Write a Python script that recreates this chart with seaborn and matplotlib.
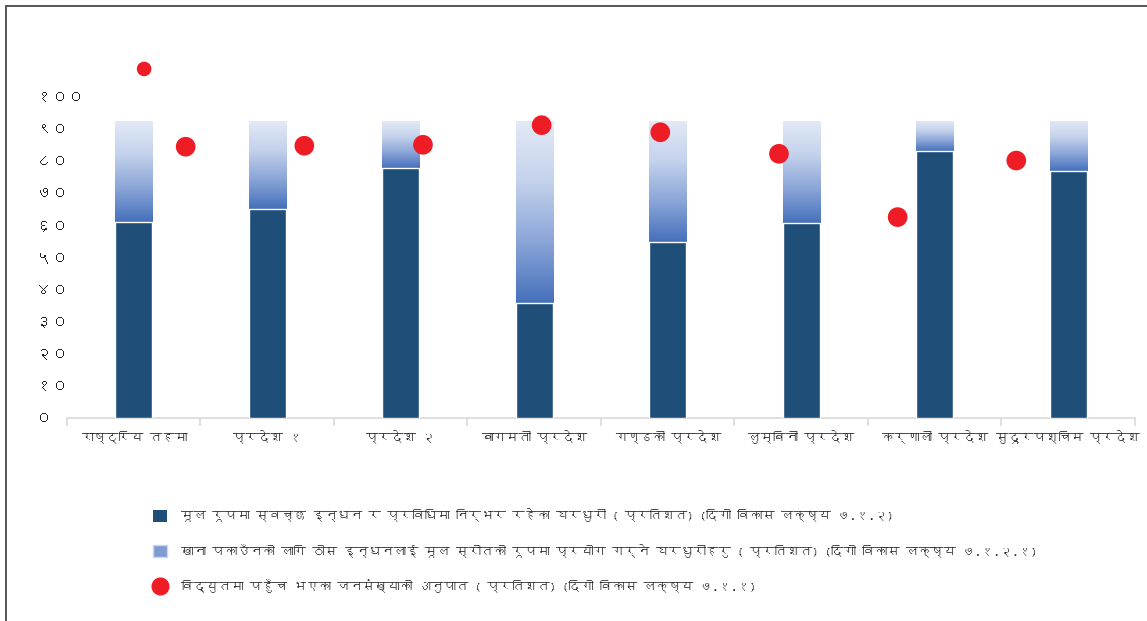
import matplotlib
matplotlib.use("Agg")
import matplotlib.pyplot as plt
import numpy as np
import pandas as pd
import seaborn as sns
from matplotlib import font_manager
from matplotlib.colors import LinearSegmentedColormap
from matplotlib.ft2font import FT2Font
from matplotlib.lines import Line2D
from matplotlib.patches import Patch

regions = [
    "राष्ट्रिय तहमा",
    "प्रदेश १",
    "प्रदेश २",
    "बागमती प्रदेश",
    "गण्डकी प्रदेश",
    "लुम्बिनी प्रदेश",
    "कर्णाली प्रदेश",
    "सुदूरपश्चिम प्रदेश",
]
clean_fuel = [61.0, 65.1, 77.9, 35.8, 54.8, 60.7, 83.0, 76.9]
solid_fuel = [31.5, 27.4, 14.6, 56.7, 37.7, 31.8, 9.5, 15.6]
electricity = [84.4, 84.7, 85.0, 91.1, 88.9, 82.2, 62.5, 80.1]
stray_dot_x = [0.65]
stray_dot_y = [108.6]

y_ticks = list(range(0, 101, 10))
y_tick_labels = ["०", "१०", "२०", "३०", "४०", "५०", "६०", "७०", "८०", "९०", "१००"]

legend_labels = [
    "मूल रूपमा स्वच्छ इन्धन र प्रविधिमा निर्भर रहेका घरधुरी ( प्रतिशत) (दिगो विकास लक्ष्य ७.१.२)",
    "खाना पकाउँनको लागि ठोस इन्धनलाई मूल स्रोतको रूपमा प्रयोग गर्ने घरधुरीहरु ( प्रतिशत) (दिगो विकास लक्ष्य ७.१.२.१)",
    "विद्युतमा पहुँच भएका जनसंख्याको अनुपात ( प्रतिशत) (दिगो विकास लक्ष्य ७.१.१)",
]

DARK = "#1f4e79"
RED = "#ee1c25"


def find_devanagari_font():
    for entry in font_manager.fontManager.ttflist:
        try:
            if 0x0915 in FT2Font(entry.fname).get_charmap():
                return entry.name
        except Exception:
            continue
    return None


sns.set_theme(style="white")
deva = find_devanagari_font()
plt.rcParams["font.family"] = ([deva] if deva else []) + ["DejaVu Sans"]

df = pd.DataFrame({"region": regions, "clean": clean_fuel, "solid": solid_fuel})
df["total"] = df["clean"] + df["solid"]

fig = plt.figure(figsize=(11.47, 6.21), dpi=100)
ax = fig.add_axes([0.0584, 0.3269, 0.9311, 0.5797])

sns.barplot(data=df, x="region", y="total", color="white", width=0.28, saturation=1, ax=ax, zorder=2)
top_patches = list(ax.patches)
sns.barplot(data=df, x="region", y="clean", color=DARK, width=0.28, saturation=1, ax=ax, zorder=3)

# vertical gradient on the solid-fuel segment, light at the top
grad = LinearSegmentedColormap.from_list("g", ["#4670bb", "#8aa5d8", "#c4d2ec", "#e3eaf6"])
ramp = np.linspace(0, 1, 256).reshape(-1, 1)
for p, lo in zip(top_patches, df["clean"]):
    x0 = p.get_x()
    im = ax.imshow(ramp, cmap=grad, origin="lower", aspect="auto",
                   extent=[x0, x0 + p.get_width(), lo, p.get_y() + p.get_height()], zorder=2.5)
    im.set_clip_path(p)
ax.set_ylim(0, 112)
ax.set_xlim(-0.5, len(regions) - 0.5)

# the dots sit on their own evenly spaced axis, as in the source chart
ax2 = ax.twiny()
sns.scatterplot(x=np.arange(1, len(electricity) + 1), y=electricity, color=RED, s=200,
                edgecolor="none", ax=ax2, zorder=4)
sns.scatterplot(x=stray_dot_x, y=stray_dot_y, color=RED, s=110, edgecolor="none", ax=ax2, zorder=4)
ax2.set_xlim(0, len(electricity) + 1)
ax2.set_ylim(0, 112)
ax2.axis("off")

for a in (ax, ax2):
    for s in a.spines.values():
        s.set_visible(False)
ax.spines["bottom"].set_visible(True)
ax.spines["bottom"].set_color("#d9d9d9")
ax.spines["bottom"].set_linewidth(1.2)

ax.set_yticks(y_ticks)
ax.set_yticklabels(y_tick_labels, fontsize=11.5, color="#222222")
for t in ax.get_yticklabels():
    t.set_horizontalalignment("left")
ax.tick_params(axis="y", length=0, pad=22)

ax.set_xticks(np.arange(len(regions)))
ax.set_xticklabels(regions, fontsize=9, color="#222222")
ax.tick_params(axis="x", length=0, pad=9)
ax.set_xticks(np.arange(len(regions) + 1) - 0.5, minor=True)
ax.tick_params(axis="x", which="minor", length=6, width=1.2, color="#d9d9d9", direction="out")
ax.tick_params(axis="x", which="minor", bottom=True)
ax.set_xlabel("")
ax.set_ylabel("")
ax.grid(False)

handles = [
    Patch(facecolor=DARK, edgecolor="none"),
    Patch(facecolor="#7f9cd3", edgecolor="#c9d6ee"),
    Line2D([], [], marker="o", linestyle="none", markerfacecolor=RED, markeredgecolor=RED, markersize=12),
]
fig.legend(handles, legend_labels, loc="upper left", bbox_to_anchor=(0.124, 0.2), frameon=False,
           fontsize=9, labelspacing=1.75, handlelength=1.1, handleheight=1.1, handletextpad=1.1)

# frame lines on the top and left edge only
fig.add_artist(Line2D([0.0055, 1.0], [0.991, 0.991], transform=fig.transFigure, color="#555555", linewidth=1.4))
fig.add_artist(Line2D([0.0055, 0.0055], [0.0, 0.991], transform=fig.transFigure, color="#555555", linewidth=1.4))

fig.savefig("out.png", dpi=100, facecolor="white")
